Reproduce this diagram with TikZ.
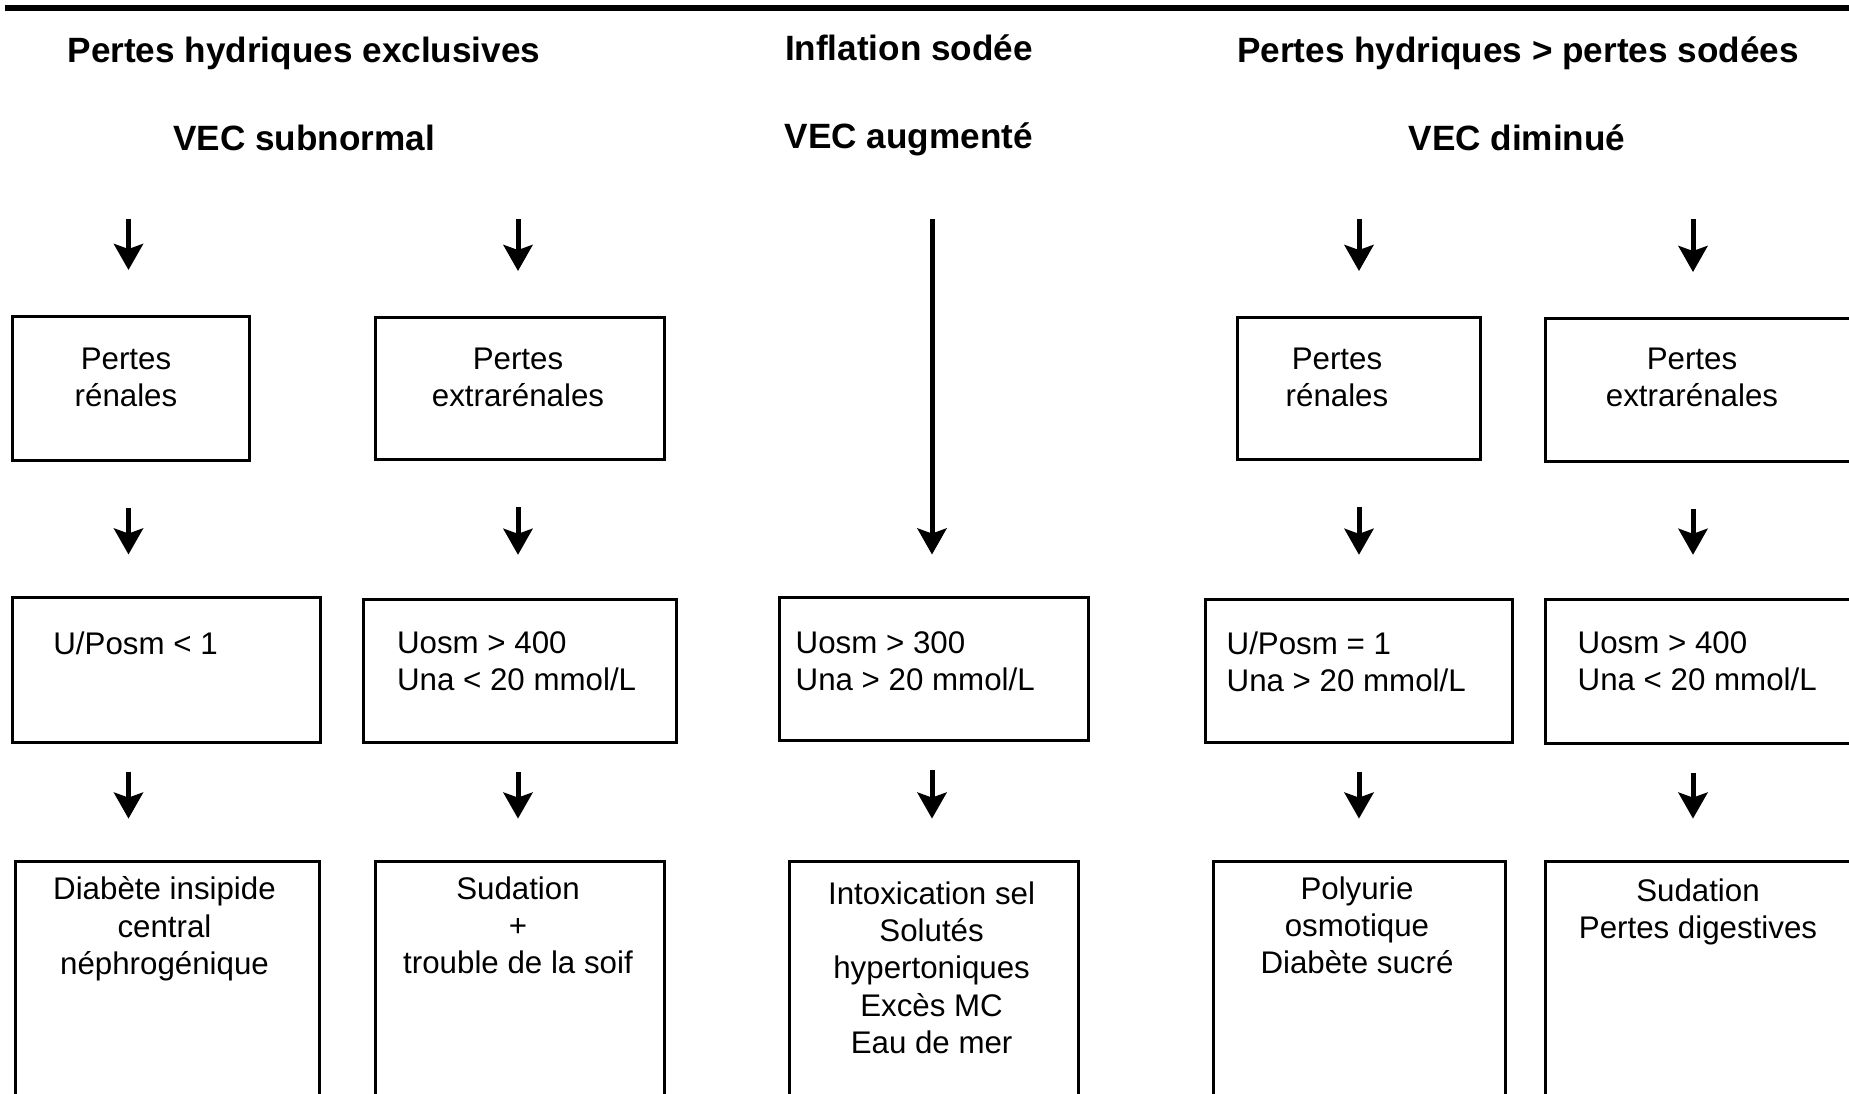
\documentclass[tikz,border=0pt]{standalone}
\usepackage{fontspec}
\setmainfont{Liberation Sans}
\usetikzlibrary{arrows.meta}

\begin{document}
\begin{tikzpicture}[
  box/.style={draw, line width=0.03cm, anchor=north west, inner sep=0pt},
  txt/.style={inner sep=0pt, font=\fontsize{8.9}{10.6}\selectfont},
  head/.style={inner sep=0pt, anchor=base, font=\fontsize{10}{12}\selectfont\bfseries},
  arr/.style={-{Stealth[length=0.26cm, width=0.29cm, inset=0.05cm]}, line width=0.05cm}
]
\useasboundingbox (0,0) rectangle (18.49,-10.93);
\clip (0,0) rectangle (18.49,-10.93);

\draw[line width=0.06cm] (0.05,-0.08) -- (18.6,-0.08);

\node[head] (h1) at (3.04,-0.625) {Pertes hydriques exclusives};
\node[head] (h2) at (9.09,-0.605) {Inflation sodée};
\node[head] (h3) at (15.18,-0.625) {Pertes hydriques > pertes sodées};
\node[head] (v1) at (3.04,-1.50) {VEC subnormal};
\node[head] (v2) at (9.09,-1.48) {VEC augmenté};
\node[head] (v3) at (15.17,-1.50) {VEC diminué};

\node[box, minimum width=2.37cm, minimum height=1.44cm] (p1) at (0.106,-3.15) {};
\node[box, minimum width=2.89cm, minimum height=1.42cm] (p2) at (3.738,-3.16) {};
\node[box, minimum width=2.43cm, minimum height=1.42cm] (p4) at (12.358,-3.16) {};
\node[box, minimum width=4cm, minimum height=1.43cm] (p5) at (15.436,-3.17) {};

\node[box, minimum width=3.08cm, minimum height=1.45cm] (u1) at (0.106,-5.955) {};
\node[box, minimum width=3.125cm, minimum height=1.43cm] (u2) at (3.62,-5.978) {};
\node[box, minimum width=3.09cm, minimum height=1.43cm] (u3) at (7.783,-5.955) {};
\node[box, minimum width=3.066cm, minimum height=1.43cm] (u4) at (12.04,-5.978) {};
\node[box, minimum width=4cm, minimum height=1.44cm] (u5) at (15.436,-5.978) {};

\node[box, minimum width=3.04cm, minimum height=3cm] (d1) at (0.142,-8.596) {};
\node[box, minimum width=2.89cm, minimum height=3cm] (d2) at (3.738,-8.596) {};
\node[box, minimum width=2.89cm, minimum height=3cm] (d3) at (7.877,-8.596) {};
\node[box, minimum width=2.913cm, minimum height=3cm] (d4) at (12.122,-8.596) {};
\node[box, minimum width=4cm, minimum height=3cm] (d5) at (15.436,-8.596) {};

\node[txt, anchor=north, align=center] (tp1) at (1.26,-3.47) {Pertes\\rénales};
\node[txt, anchor=north, align=center] (tp2) at (5.18,-3.47) {Pertes\\extrarénales};
\node[txt, anchor=north, align=center] (tp4) at (13.37,-3.47) {Pertes\\rénales};
\node[txt, anchor=north, align=center] (tp5) at (16.92,-3.47) {Pertes\\extrarénales};

\node[txt, anchor=north west, align=left] (tu1) at (0.527,-6.31) {U/Posm < 1};
\node[txt, anchor=north west, align=left] (tu2) at (3.964,-6.31) {Uosm > 400\\Una < 20 mmol/L};
\node[txt, anchor=north west, align=left] (tu3) at (7.95,-6.31) {Uosm > 300\\Una > 20 mmol/L};
\node[txt, anchor=north west, align=left] (tu4) at (12.26,-6.31) {U/Posm = 1\\Una > 20 mmol/L};
\node[txt, anchor=north west, align=left] (tu5) at (15.77,-6.31) {Uosm > 400\\Una < 20 mmol/L};

\node[txt, anchor=north, align=center] (td1) at (1.645,-8.76) {Diabète insipide\\central\\néphrogénique};
\node[txt, anchor=north, align=center] (td2) at (5.18,-8.76) {Sudation\\+\\trouble de la soif};
\node[txt, anchor=north, align=center] (td3) at (9.316,-8.81) {Intoxication sel\\Solutés\\hypertoniques\\Excès MC\\Eau de mer};
\node[txt, anchor=north, align=center] (td4) at (13.57,-8.76) {Polyurie\\osmotique\\Diabète sucré};
\node[txt, anchor=north, align=center] (td5) at (16.98,-8.78) {Sudation\\Pertes digestives};

\coordinate (a1) at (1.285,-2.19);
\coordinate (a2) at (5.18,-2.19);
\coordinate (a3) at (9.32,-2.19);
\coordinate (a4) at (13.59,-2.19);
\coordinate (a5) at (16.93,-2.19);

\draw[arr, shorten >=0.45cm] (a1) -- (a1 |- p1.north);
\draw[arr, shorten >=0.45cm] (a2) -- (a2 |- p2.north);
\draw[arr, shorten >=0.45cm] (a4) -- (a4 |- p4.north);
\draw[arr, shorten >=0.45cm] (a5) -- (a5 |- p5.north);
\draw[arr, shorten >=0.41cm] (a3) -- (a3 |- u3.north);

\draw[arr, shorten <=0.46cm, shorten >=0.41cm] (a1 |- p1.south) -- (a1 |- u1.north);
\draw[arr, shorten <=0.46cm, shorten >=0.43cm] (a2 |- p2.south) -- (a2 |- u2.north);
\draw[arr, shorten <=0.46cm, shorten >=0.43cm] (a4 |- p4.south) -- (a4 |- u4.north);
\draw[arr, shorten <=0.46cm, shorten >=0.43cm] (a5 |- p5.south) -- (a5 |- u5.north);

\draw[arr, shorten <=0.28cm, shorten >=0.41cm] (a1 |- u1.south) -- (a1 |- d1.north);
\draw[arr, shorten <=0.28cm, shorten >=0.41cm] (a2 |- u2.south) -- (a2 |- d2.north);
\draw[arr, shorten <=0.28cm, shorten >=0.41cm] (a3 |- u3.south) -- (a3 |- d3.north);
\draw[arr, shorten <=0.28cm, shorten >=0.41cm] (a4 |- u4.south) -- (a4 |- d4.north);
\draw[arr, shorten <=0.28cm, shorten >=0.41cm] (a5 |- u5.south) -- (a5 |- d5.north);

\end{tikzpicture}
\end{document}
